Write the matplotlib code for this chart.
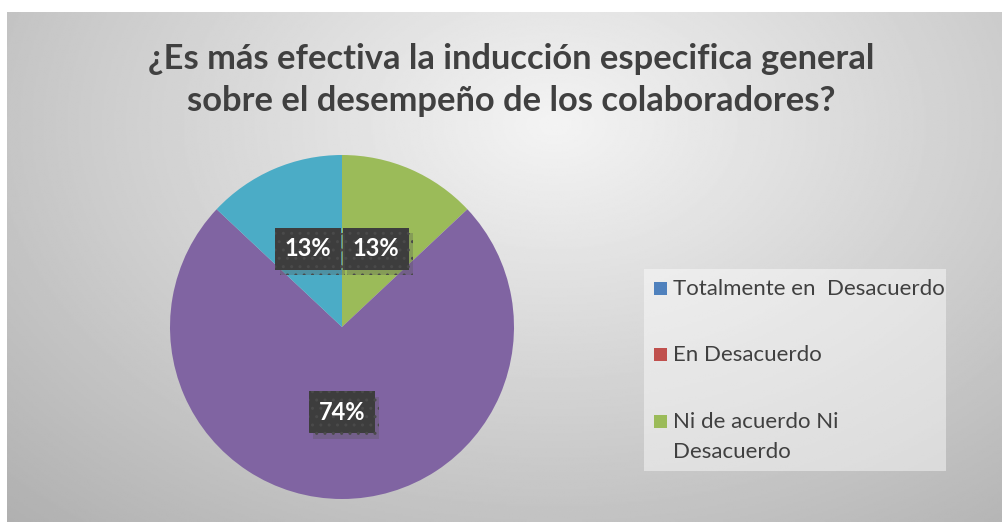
import numpy as np
import matplotlib
matplotlib.use("Agg")
import matplotlib.pyplot as plt
from matplotlib.patches import Rectangle
import matplotlib.patheffects as pe

plt.rcParams['font.family'] = ['Lato', 'DejaVu Sans']
plt.rcParams['hatch.linewidth'] = 1.0

title = "¿Es más efectiva la inducción especifica general\nsobre el desempeño de los colaboradores?"
categorias = ["Totalmente en  Desacuerdo", "En Desacuerdo", "Ni de acuerdo Ni\nDesacuerdo",
              "De acuerdo", "Totalmente de acuerdo"]
valores = [0, 0, 13, 74, 13]
colores = ['#4F81BD', '#C0504D', '#9BBB59', '#8064A2', '#4BACC6']

W, H = 1003, 522
fig = plt.figure(figsize=(W / 100, H / 100), dpi=100)

# fondo con degradado radial
bg = fig.add_axes([7 / W, 0, (W - 7) / W, (H - 12) / H])
yy, xx = np.mgrid[0:1:300j, 0:1:600j]
d = np.sqrt(((xx - 0.55) * 1.0) ** 2 + ((yy - 0.22) * 0.75) ** 2)
img = 0.955 - 0.33 * d
bg.imshow(img, cmap='gray', vmin=0, vmax=1, aspect='auto', extent=[0, 1, 1, 0])
bg.set_axis_off()

fig.text(511 / W, 1 - 80 / H, title, ha='center', va='center', fontsize=24.8,
         fontweight='bold', color='#404040', linespacing=1.38)

# pastel
cx, cy, r = 342, 327, 172
ax = fig.add_axes([(cx - r) / W, (H - cy - r) / H, 2 * r / W, 2 * r / H])
wedges, _ = ax.pie(valores, colors=colores, startangle=90, counterclock=False,
                   radius=1, wedgeprops=dict(linewidth=0))
ax.set_xlim(-1, 1)
ax.set_ylim(-1, 1)
ax.set_axis_off()

total = sum(valores)
ang0 = 90
for v in valores:
    if v == 0:
        continue
    mid = np.deg2rad(ang0 - v / total * 180)
    ang0 -= v / total * 360
    t = ax.text(0.495 * np.cos(mid), 0.495 * np.sin(mid), f"{v / total * 100:.0f}%",
                ha='center', va='center', fontsize=17, fontweight='bold', color='white',
                bbox=dict(boxstyle='square,pad=0.4', facecolor='#3d3d3d',
                          edgecolor='#4a4a4a', linewidth=0, hatch='..'))
    t.get_bbox_patch().set_path_effects([pe.SimplePatchShadow(offset=(3, -4), alpha=0.3,
                                                              shadow_rgbFace='#555555'),
                                         pe.Normal()])

# leyenda
leg = fig.add_axes([0, 0, 1, 1])
leg.set_xlim(0, W)
leg.set_ylim(H, 0)
leg.set_axis_off()
leg.add_patch(Rectangle((644, 269), 302, 202, facecolor='white', alpha=0.45, linewidth=0))
bases = [295, 361, 428]
for lab, col, yb in zip(categorias[:3], colores[:3], bases):
    leg.add_patch(Rectangle((654, yb - 13), 13, 13, facecolor=col, linewidth=0))
    for k, linea in enumerate(lab.split('\n')):
        leg.text(673, yb + 30 * k, linea, ha='left', va='baseline', fontsize=16,
                 color='#404040')

fig.savefig('out.png', dpi=100)
